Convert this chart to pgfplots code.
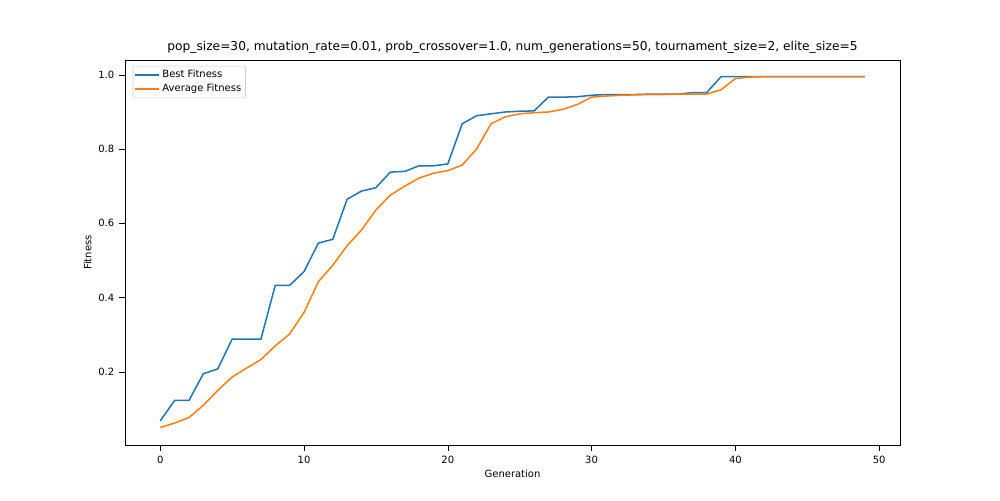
\documentclass[border=0pt]{standalone}
\usepackage{pgfplots}
\pgfplotsset{compat=1.18}
\usepackage{fontspec}
\setmainfont{DejaVu Sans}
\definecolor{c1}{HTML}{1F77B4}
\definecolor{c2}{HTML}{FF7F0E}
\begin{document}
\begin{tikzpicture}
\path[use as bounding box] (-90pt,-39.6pt) rectangle (630pt,320.4pt);
\begin{axis}[
 scale only axis, width=558pt, height=277.2pt,
 xmin=-2.45, xmax=51.45, ymin=0.003, ymax=1.04,
 xtick={0,10,20,30,40,50}, ytick={0.2,0.4,0.6,0.8,1.0},
 yticklabel style={/pgf/number format/fixed,/pgf/number format/precision=1,/pgf/number format/fixed zerofill},
 /pgf/number format/assume math mode=true,
 tick align=outside, tick style={black}, xtick pos=bottom, ytick pos=left,
 ticklabel style={font=\fontsize{7.2}{8}\selectfont},
 label style={font=\fontsize{7.2}{8}\selectfont},
 xlabel={Generation}, ylabel={Fitness},
 xlabel style={yshift=2pt}, ylabel style={yshift=-2pt},
 title={pop\_size=30, mutation\_rate=0.01, prob\_crossover=1.0, num\_generations=50, tournament\_size=2, elite\_size=5},
 title style={font=\fontsize{8.8}{10}\selectfont, yshift=-5pt},
 legend style={at={(0.01,0.985)}, anchor=north west, font=\fontsize{7.2}{8}\selectfont, draw=black!20, rounded corners=1pt, row sep=-1pt, inner sep=1pt},
 legend cell align=left,
 every axis plot/.append style={line width=1.1pt},
]
\addplot[c1] coordinates {(0,0.068)(1,0.123)(2,0.123)(3,0.195)(4,0.208)(5,0.288)(6,0.288)(7,0.288)(8,0.433)(9,0.433)(10,0.47)(11,0.547)(12,0.557)(13,0.665)(14,0.687)(15,0.696)(16,0.738)(17,0.74)(18,0.755)(19,0.755)(20,0.76)(21,0.868)(22,0.89)(23,0.895)(24,0.9)(25,0.902)(26,0.903)(27,0.94)(28,0.94)(29,0.941)(30,0.945)(31,0.947)(32,0.947)(33,0.947)(34,0.948)(35,0.948)(36,0.948)(37,0.952)(38,0.952)(39,0.995)(40,0.995)(41,0.995)(42,0.995)(43,0.995)(44,0.995)(45,0.995)(46,0.995)(47,0.995)(48,0.995)(49,0.995)};
\addlegendentry{Best Fitness}
\addplot[c2] coordinates {(0,0.05)(1,0.062)(2,0.077)(3,0.11)(4,0.15)(5,0.186)(6,0.21)(7,0.233)(8,0.27)(9,0.302)(10,0.36)(11,0.443)(12,0.487)(13,0.54)(14,0.582)(15,0.636)(16,0.676)(17,0.7)(18,0.722)(19,0.735)(20,0.742)(21,0.757)(22,0.8)(23,0.868)(24,0.887)(25,0.895)(26,0.898)(27,0.9)(28,0.907)(29,0.92)(30,0.94)(31,0.943)(32,0.945)(33,0.946)(34,0.947)(35,0.947)(36,0.948)(37,0.948)(38,0.948)(39,0.96)(40,0.99)(41,0.994)(42,0.995)(43,0.995)(44,0.995)(45,0.995)(46,0.995)(47,0.995)(48,0.995)(49,0.995)};
\addlegendentry{Average Fitness}
\end{axis}
\end{tikzpicture}
\end{document}
